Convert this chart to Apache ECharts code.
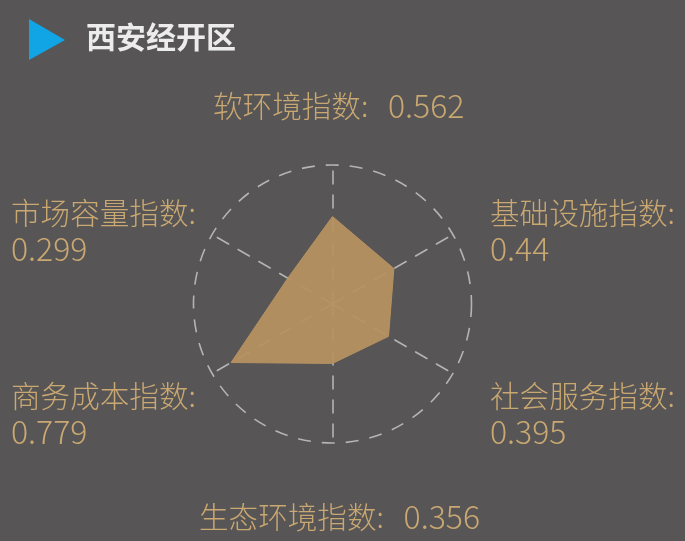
<!DOCTYPE html>
<html><head><meta charset="utf-8">
<style>html,body{margin:0;padding:0;background:#575556}#c{width:685px;height:541px}</style>
<script src="https://cdn.jsdelivr.net/npm/echarts@6/dist/echarts.min.js"></script>
</head><body><div id="c"></div>
<script>
const chartTitle = '西安经开区';
const categories = ['软环境指数','市场容量指数','商务成本指数','生态环境指数','社会服务指数','基础设施指数'];
const values = [0.562,0.299,0.779,0.356,0.395,0.44];
const axisMin = -0.08, axisMax = 0.94;
const gold = '#c9a871';
const fontCJK = '"Noto Sans CJK SC","Noto Sans",sans-serif';
const labelPos = [
  {x:213,y:108,oneLine:true},{x:11,y:233},{x:11,y:416},
  {x:199,y:519,oneLine:true},{x:490,y:416},{x:490,y:233}
];
const chart = echarts.init(document.getElementById('c'),null,{renderer:'canvas'});
const labels = categories.map((c,i)=>{
  const p = labelPos[i];
  return {type:'text',left:p.x,top:p.oneLine?p.y-18:p.y-35,z:10,style:{
    text: p.oneLine ? '{n|'+c+':   }{v|'+values[i]+'}' : '{n|'+c+':}\n{v|'+values[i]+'}',
    rich:{
      n:{fill:gold,font:'300 29.6px '+fontCJK,lineHeight:36},
      v:{fill:gold,font:'300 32px '+fontCJK,lineHeight:36}
    }}};
});
chart.setOption({
  backgroundColor:'#575556',animation:false,
  radar:{center:[332.5,304],radius:139,splitNumber:1,shape:'circle',
    indicator:categories.map(n=>({name:n,min:axisMin,max:axisMax})),
    axisName:{show:false},axisTick:{show:false},axisLabel:{show:false},
    axisLine:{lineStyle:{color:'#b4b4b4',width:1.6,type:[13,11]}},
    splitLine:{lineStyle:{color:'#b4b4b4',width:1.6,type:[13,11]}},
    splitArea:{show:false}},
  series:[{type:'radar',symbol:'none',silent:true,
    lineStyle:{color:'#b59160',width:1},
    areaStyle:{color:'#b59160',opacity:0.95},
    data:[{value:values}]}],
  graphic:[
    {type:'polygon',z:10,shape:{points:[[29,19],[65,40],[29,60]]},style:{fill:'#12a5e6'}},
    {type:'text',left:86,top:22,z:10,style:{text:chartTitle,fill:'#ececec',font:'bold 30px '+fontCJK}},
    ...labels
  ]
});
</script></body></html>
